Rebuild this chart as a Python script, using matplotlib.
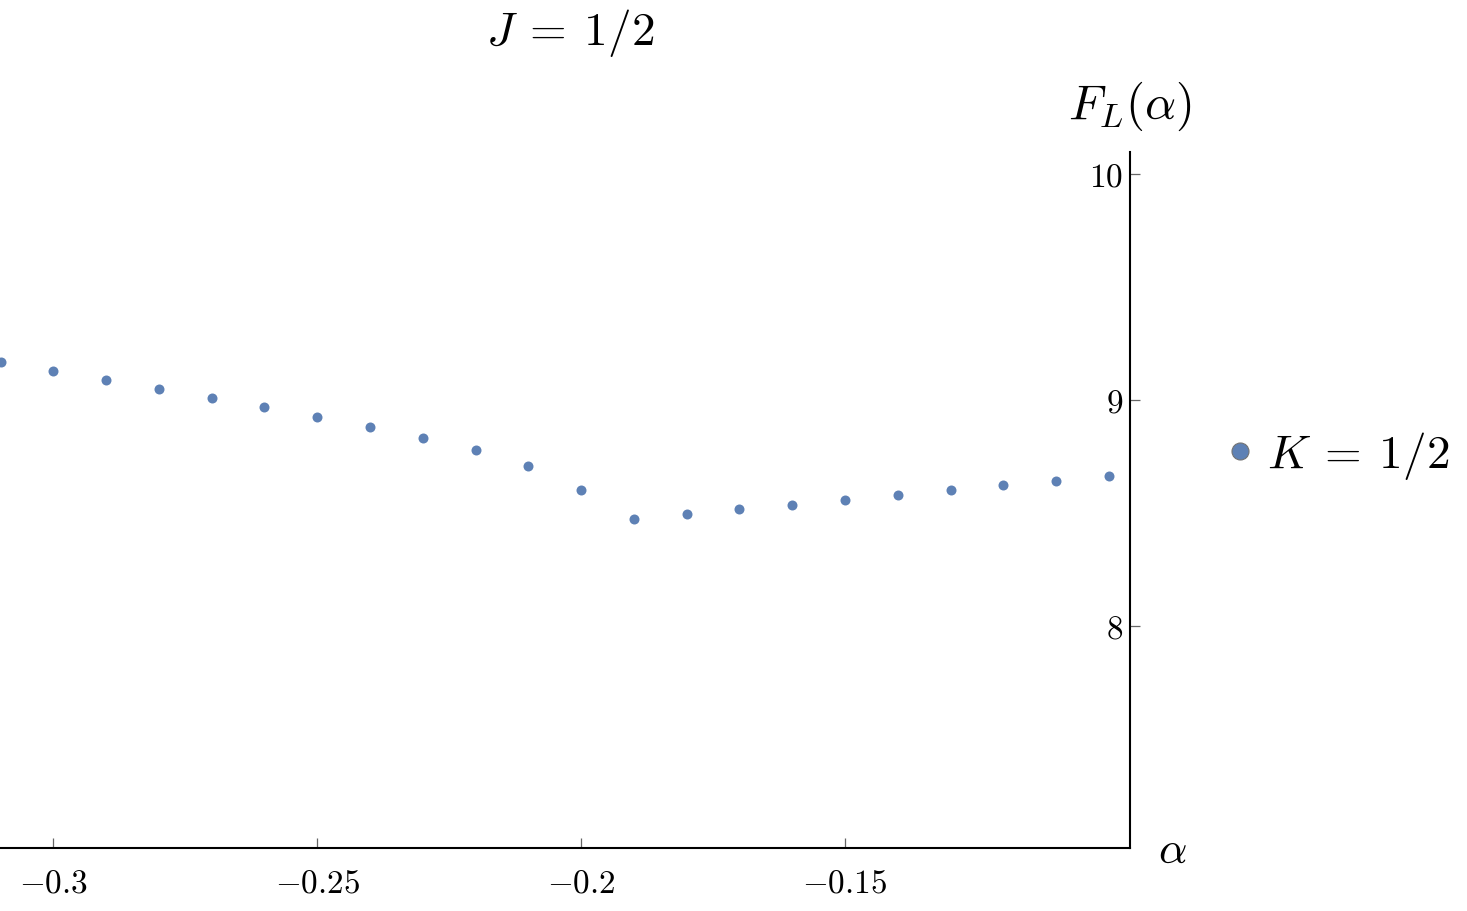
import numpy as np
import matplotlib
matplotlib.use("Agg")
import matplotlib.pyplot as plt

plt.rcParams['mathtext.fontset'] = 'cm'
plt.rcParams['font.family'] = 'serif'

# data
alpha = [-0.31, -0.30, -0.29, -0.28, -0.27, -0.26, -0.25, -0.24, -0.23, -0.22, -0.21,
         -0.20, -0.19, -0.18, -0.17, -0.16, -0.15, -0.14, -0.13, -0.12, -0.11, -0.10]
F_L = [9.167, 9.128, 9.088, 9.049, 9.009, 8.969, 8.925, 8.882, 8.832, 8.779, 8.708,
       8.602, 8.474, 8.498, 8.520, 8.537, 8.558, 8.582, 8.602, 8.626, 8.642, 8.664]

xticks = [-0.3, -0.25, -0.2, -0.15]
xticklabels = [r'$-0.3$', r'$-0.25$', r'$-0.2$', r'$-0.15$']
yticks = [8, 9, 10]
yticklabels = [r'$8$', r'$9$', r'$10$']

col = (0.368417, 0.506779, 0.709798)

W, H = 1467, 911
fig = plt.figure(figsize=(W/100, H/100), dpi=100)
ax = fig.add_axes([0, 1 - 848.3/H, 1130/W, (848.3 - 151.7)/H])

ax.plot(alpha, F_L, 'o', ms=7.2, color=col, mec='none', label=r'$K\:=\:1/2$')

ax.set_xlim(-0.3101, -0.096)
ax.set_ylim(7.019, 10.097)

for s in ['top', 'right']:
    ax.spines[s].set_visible(False)
ax.spines['left'].set_position(('data', -0.096))
ax.spines['left'].set_linewidth(1.5)
ax.spines['bottom'].set_linewidth(1.5)

ax.set_xticks(xticks)
ax.set_xticklabels(xticklabels, fontsize=24)
ax.set_yticks(yticks)
ax.set_yticklabels(yticklabels, fontsize=24)
ax.tick_params(axis='x', direction='in', length=7, width=0.9, color='0.4', pad=14)
ax.tick_params(axis='y', direction='in', length=7, width=0.9, color='0.4', pad=5)

fig.text(570/W, 1 - 33/H, r'$J\:=\:1/2$', fontsize=34, ha='center', va='center')
fig.text(1130/W, 1 - 106/H, r'$F_L(\alpha)$', fontsize=35, ha='center', va='center')
fig.text(1172/W, 1 - 850/H, r'$\alpha$', fontsize=32, ha='center', va='center')

leg = fig.legend(loc='center left', bbox_to_anchor=(1219/W, 1 - 456/H), frameon=False,
                 fontsize=34, handletextpad=0.12, markerscale=1.7, handlelength=0.9,
                 borderaxespad=0, borderpad=0)
for h in leg.legend_handles:
    h.set_markeredgecolor('0.45')
    h.set_markeredgewidth(0.8)

fig.savefig('out.png', dpi=100)
